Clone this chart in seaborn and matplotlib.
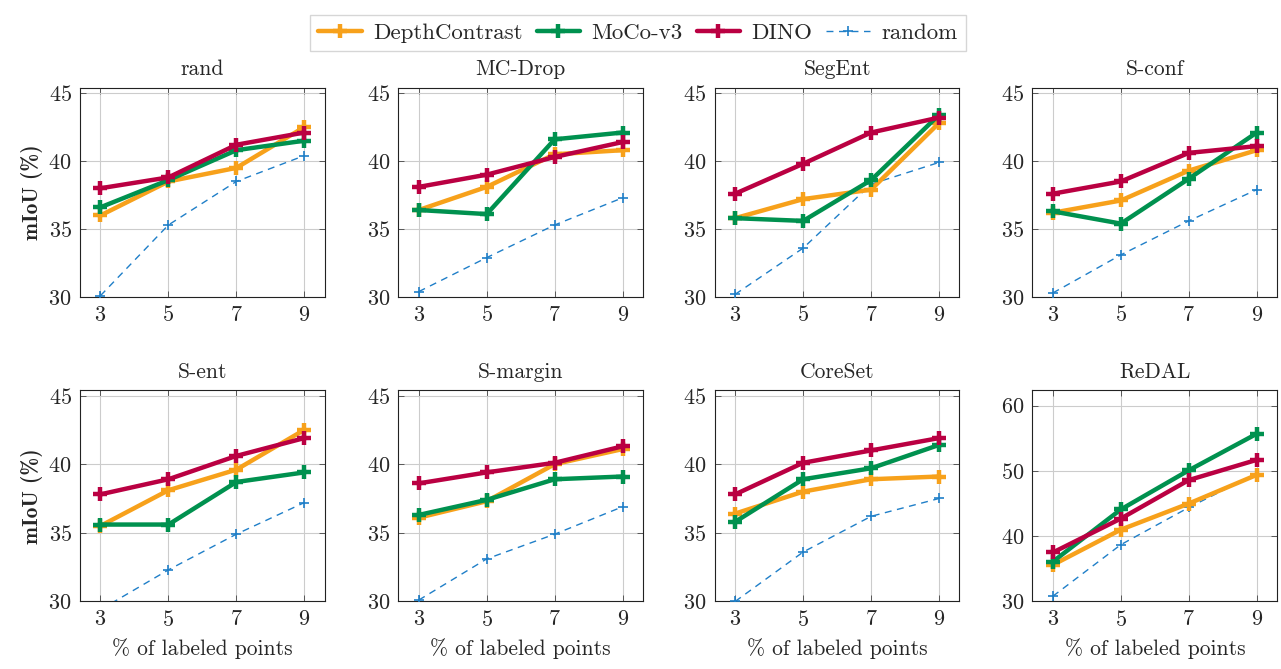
import seaborn as sns
import matplotlib.pyplot as plt
import pandas as pd

# % of labeled points
points = [3, 5, 7, 9]
methods = ["rand", "MC-Drop", "SegEnt", "S-conf", "S-ent", "S-margin", "CoreSet", "ReDAL"]

# mIoU (%) per method
depthcontrast = {
    "rand": [36.0, 38.5, 39.5, 42.5],
    "MC-Drop": [36.4, 38.1, 40.5, 40.8],
    "SegEnt": [35.8, 37.2, 37.9, 42.8],
    "S-conf": [36.2, 37.1, 39.3, 40.8],
    "S-ent": [35.5, 38.1, 39.6, 42.5],
    "S-margin": [36.1, 37.3, 40.0, 41.1],
    "CoreSet": [36.4, 38.0, 38.9, 39.1],
    "ReDAL": [35.6, 41.0, 45.0, 49.4],
}
mocov3 = {
    "rand": [36.6, 38.6, 40.8, 41.5],
    "MC-Drop": [36.4, 36.1, 41.6, 42.1],
    "SegEnt": [35.8, 35.6, 38.6, 43.4],
    "S-conf": [36.3, 35.4, 38.7, 42.1],
    "S-ent": [35.6, 35.6, 38.7, 39.4],
    "S-margin": [36.3, 37.4, 38.9, 39.1],
    "CoreSet": [35.8, 38.9, 39.7, 41.4],
    "ReDAL": [36.1, 44.1, 50.1, 55.7],
}
dino = {
    "rand": [38.0, 38.8, 41.2, 42.1],
    "MC-Drop": [38.1, 39.0, 40.3, 41.4],
    "SegEnt": [37.6, 39.8, 42.1, 43.2],
    "S-conf": [37.6, 38.5, 40.6, 41.1],
    "S-ent": [37.8, 38.9, 40.6, 41.9],
    "S-margin": [38.6, 39.4, 40.1, 41.3],
    "CoreSet": [37.8, 40.1, 41.0, 41.9],
    "ReDAL": [37.5, 42.7, 48.6, 51.7],
}
random_init = {
    "rand": [30.1, 35.3, 38.5, 40.4],
    "MC-Drop": [30.4, 32.9, 35.3, 37.3],
    "SegEnt": [30.2, 33.6, 38.3, 39.9],
    "S-conf": [30.3, 33.1, 35.6, 37.9],
    "S-ent": [29.4, 32.3, 34.9, 37.2],
    "S-margin": [30.1, 33.1, 34.9, 36.9],
    "CoreSet": [30.0, 33.6, 36.2, 37.5],
    "ReDAL": [30.8, 38.7, 44.4, 49.6],
}

series = {"DepthContrast": depthcontrast, "MoCo-v3": mocov3, "DINO": dino, "random": random_init}
colors = {"DepthContrast": "#F7A11B", "MoCo-v3": "#00914F", "DINO": "#BA0042", "random": "#1F7FC8"}

rows = []
for name, d in series.items():
    for m in methods:
        for p, v in zip(points, d[m]):
            rows.append({"method": m, "model": name, "points": p, "miou": v})
df = pd.DataFrame(rows)

sns.set_theme(style="ticks")
plt.rcParams["font.family"] = ["cmr10", "DejaVu Serif"]
plt.rcParams["axes.formatter.use_mathtext"] = True
plt.rcParams["mathtext.fontset"] = "cm"

fig = plt.figure(figsize=(12.81, 6.69), dpi=100)
lefts = [0.0625, 0.311, 0.558, 0.806]
w = 0.191
axes = []
for i, m in enumerate(methods):
    r, c = divmod(i, 4)
    if r == 0:
        ax = fig.add_axes([lefts[c], 0.556, w, 0.313])
    else:
        ax = fig.add_axes([lefts[c], 0.101, w, 0.316])
    axes.append(ax)
    sub = df[df.method == m]
    for name in series:
        s = sub[sub.model == name]
        col = colors[name]
        if name == "random":
            sns.lineplot(data=s, x="points", y="miou", ax=ax, color=col,
                         lw=1.0, dashes=False, ls=(0, (5, 4)), marker="+", ms=7, mew=1.2,
                         mec=col, mfc=col, label=name, zorder=3)
        else:
            sns.lineplot(data=s, x="points", y="miou", ax=ax, color=col,
                         lw=3.2, marker="+", ms=10, mew=3.2, mec=col, mfc=col,
                         label=name, zorder=4)
    ax.set_xlim(2.4, 9.6)
    ax.set_xticks(points)
    if m == "ReDAL":
        ax.set_ylim(30, 62.4)
        ax.set_yticks([30, 40, 50, 60])
    else:
        ax.set_ylim(30, 45.4)
        ax.set_yticks([30, 35, 40, 45])
    ax.grid(True, color="#cccccc", lw=0.8)
    ax.tick_params(direction="in", top=True, right=True, labelsize=16, length=4,
                   width=0.6, color="#444444", pad=6)
    for sp in ax.spines.values():
        sp.set_linewidth(0.8)
        sp.set_color("#222222")
    ax.set_title(m, fontsize=15.5, pad=9)
    ax.set_xlabel("% of labeled points" if r == 1 else "", fontsize=15.5, labelpad=6)
    if c == 0:
        ax.set_ylabel("mIoU (%)", fontsize=15.5, fontweight="bold", family=["cmb10", "DejaVu Serif"])
    else:
        ax.set_ylabel("")
    ax.get_legend().remove()

handles, labels = axes[0].get_legend_handles_labels()
fig.legend(handles, labels, loc="upper center", bbox_to_anchor=(0.498, 0.995), ncol=4,
           fontsize=16.5, frameon=True, fancybox=False, edgecolor="#cccccc",
           handlelength=1.9, columnspacing=0.6, handletextpad=0.5, borderpad=0.35)

fig.savefig("out.png", dpi=100)
